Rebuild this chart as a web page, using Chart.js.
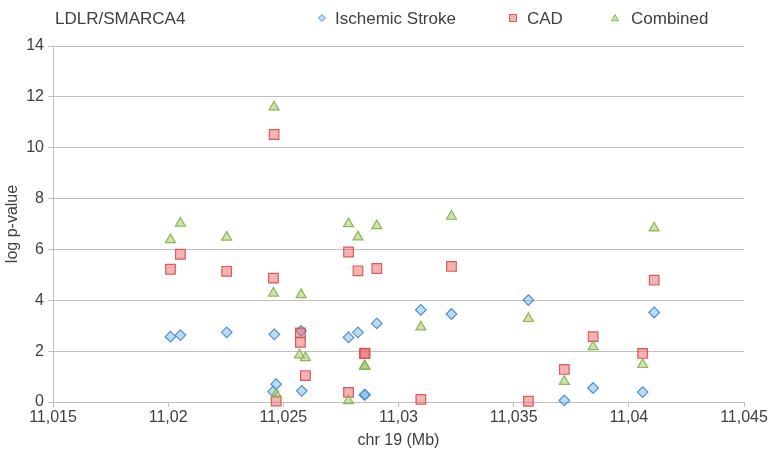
<!DOCTYPE html>
<html>
<head>
<meta charset="utf-8">
<script src="https://cdn.jsdelivr.net/npm/chart.js@4/dist/chart.umd.min.js"></script>
<style>
  html, body { margin: 0; padding: 0; background: #fff; }
  #wrap { width: 769px; height: 454px; }
</style>
</head>
<body>
<div id="wrap"><canvas id="ChartScatter" width="769" height="454"></canvas></div>
<script>
// valores (posição em Mb, log p-value)
const chartTitle = 'LDLR/SMARCA4';
const seriesNames = ['Ischemic Stroke', 'CAD', 'Combined'];

const strokeX = [11.0201, 11.02053, 11.02254, 11.02461, 11.02469, 11.02455, 11.02577, 11.0258,
                 11.02783, 11.02824, 11.02906, 11.02852, 11.02855, 11.03097, 11.0323, 11.03564,
                 11.0372, 11.03845, 11.0406, 11.0411];
const strokeY = [2.57, 2.63, 2.74, 2.66, 0.70, 0.41, 2.80, 0.44,
                 2.54, 2.74, 3.09, 0.28, 0.29, 3.62, 3.46, 4.01,
                 0.06, 0.55, 0.39, 3.52];

const cadX = [11.0201, 11.02053, 11.02254, 11.0246, 11.02457, 11.02469, 11.02574, 11.02574,
              11.02596, 11.02783, 11.02824, 11.02906, 11.02783, 11.02852, 11.02855, 11.03097,
              11.0323, 11.03564, 11.0372, 11.03845, 11.0406, 11.0411];
const cadY = [5.22, 5.81, 5.14, 10.52, 4.87, 0.04, 2.72, 2.35,
              1.04, 5.90, 5.16, 5.25, 0.38, 1.90, 1.92, 0.10,
              5.33, 0.03, 1.28, 2.57, 1.91, 4.79];

const combX = [11.0201, 11.02053, 11.02254, 11.0246, 11.02457, 11.02469, 11.02577, 11.0257,
               11.02596, 11.02783, 11.02824, 11.02906, 11.02783, 11.02852, 11.02855, 11.03097,
               11.0323, 11.03564, 11.0372, 11.03845, 11.0406, 11.0411];
const combY = [6.38, 7.03, 6.48, 11.60, 4.28, 0.30, 4.22, 1.85,
               1.74, 7.01, 6.49, 6.93, 0.05, 1.42, 1.40, 2.95,
               7.30, 3.28, 0.81, 2.17, 1.47, 6.84];

const xMin = 11.015, xMax = 11.045, xStep = 0.005;
const yMin = 0, yMax = 14, yStep = 2;

function toPoints(xs, ys) {
    return xs.map(function (x, i) { return { x: x, y: ys[i] }; });
}

const FONT = '"Liberation Sans", Arial, sans-serif';
const TEXT = '#404040';
const GRID = '#bfbfbf';

// marcador desenhado à mão para a legenda
function drawMarker(ctx, style, x, y, r, fill, stroke) {
    ctx.beginPath();
    if (style === 'rectRot') {
        ctx.moveTo(x, y - r); ctx.lineTo(x + r, y); ctx.lineTo(x, y + r); ctx.lineTo(x - r, y);
    } else if (style === 'rect') {
        ctx.rect(x - r, y - r, 2 * r, 2 * r);
    } else {
        ctx.moveTo(x, y - r); ctx.lineTo(x + r, y + r * 0.8); ctx.lineTo(x - r, y + r * 0.8);
    }
    ctx.closePath();
    ctx.fillStyle = fill; ctx.fill();
    ctx.lineWidth = 1; ctx.strokeStyle = stroke; ctx.stroke();
}

const headerPlugin = {
    id: 'header',
    afterDraw(chart) {
        const ctx = chart.ctx;
        const markX = [322, 513, 615];
        const textX = [335, 527, 631];
        ctx.save();
        ctx.font = '17px ' + FONT;
        ctx.fillStyle = TEXT;
        ctx.textBaseline = 'alphabetic';
        ctx.textAlign = 'left';
        ctx.fillText(chartTitle, 55, 24);
        chart.data.datasets.forEach(function (ds, i) {
            drawMarker(ctx, ds.pointStyle, markX[i], 18, 3.5, ds.backgroundColor, ds.borderColor);
            ctx.fillStyle = TEXT;
            ctx.fillText(ds.label, textX[i], 24);
        });
        ctx.restore();
    }
};

const ctx = document.getElementById('ChartScatter').getContext('2d');
const myChart = new Chart(ctx, {
    type: 'scatter',
    data: {
        datasets: [{
            label: seriesNames[0],
            data: toPoints(strokeX, strokeY),
            pointStyle: 'rectRot',
            pointRadius: 5.3,
            backgroundColor: 'rgba(110, 175, 230, 0.45)',
            borderColor: 'rgba(70, 140, 210, 0.95)',
            borderWidth: 1.2,
            order: 3
        }, {
            label: seriesNames[1],
            data: toPoints(cadX, cadY),
            pointStyle: 'rect',
            pointRadius: 6.8,
            backgroundColor: 'rgba(238, 100, 100, 0.5)',
            borderColor: 'rgba(210, 80, 85, 0.9)',
            borderWidth: 1.2,
            order: 2
        }, {
            label: seriesNames[2],
            data: toPoints(combX, combY),
            pointStyle: 'triangle',
            pointRadius: 5.8,
            backgroundColor: 'rgba(160, 195, 95, 0.5)',
            borderColor: 'rgba(140, 178, 80, 0.95)',
            borderWidth: 1.2,
            order: 1
        }]
    },
    options: {
        responsive: false,
        animation: false,
        clip: false,
        layout: { padding: { left: 0, right: 25, top: 46, bottom: 0 } },
        plugins: {
            legend: { display: false },
            title: { display: false },
            tooltip: { enabled: false }
        },
        scales: {
            x: {
                type: 'linear',
                position: 'bottom',
                min: xMin,
                max: xMax,
                afterFit: function (scale) { scale.height = 52; },
                ticks: {
                    stepSize: xStep,
                    padding: 1,
                    color: TEXT,
                    font: { family: FONT, size: 16 },
                    maxRotation: 0,
                    callback: function (v) { return String(+v.toFixed(3)).replace('.', ','); }
                },
                grid: { drawOnChartArea: false, drawTicks: true, tickLength: 5, color: GRID },
                border: { display: true, color: GRID },
                title: {
                    display: true,
                    text: 'chr 19 (Mb)',
                    color: TEXT,
                    font: { family: FONT, size: 16 },
                    padding: { top: 0, bottom: 4 }
                }
            },
            y: {
                min: yMin,
                max: yMax,
                afterFit: function (scale) { scale.width = 53; },
                ticks: {
                    stepSize: yStep,
                    padding: 4,
                    color: TEXT,
                    font: { family: FONT, size: 16 }
                },
                grid: { color: GRID, tickLength: 5 },
                border: { display: true, color: GRID },
                title: {
                    display: true,
                    text: 'log p-value',
                    color: TEXT,
                    font: { family: FONT, size: 16 },
                    padding: { top: 3, bottom: 0 }
                }
            }
        }
    },
    plugins: [headerPlugin]
});
</script>
</body>
</html>
